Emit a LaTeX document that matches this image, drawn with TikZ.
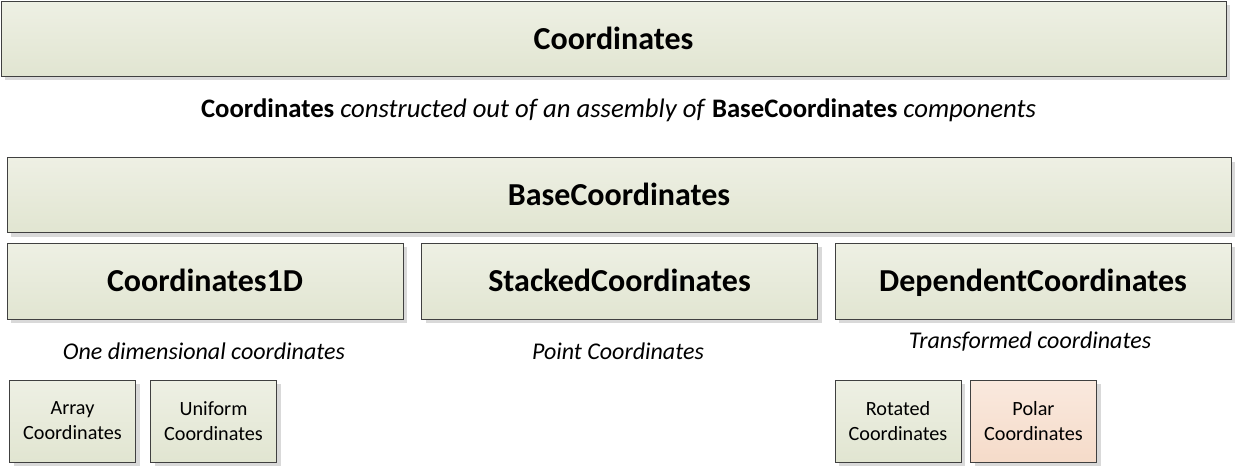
\documentclass[tikz,border=0pt]{standalone}
\usepackage{fontspec}
\setmainfont{Carlito}
\usetikzlibrary{shadows}

\definecolor{boxtop}{HTML}{EEF0E4}
\definecolor{boxbot}{HTML}{E1E5D1}
\definecolor{polartop}{HTML}{FAE9DE}
\definecolor{polarbot}{HTML}{F5DBC9}
\definecolor{boxline}{HTML}{404040}
\definecolor{boxshade}{HTML}{D9D9D9}

\tikzset{
  classbox/.style={draw=boxline, line width=1pt, rectangle, inner sep=0pt,
    top color=boxtop, bottom color=boxbot,
    drop shadow={shadow xshift=4pt, shadow yshift=-4pt, fill=boxshade, opacity=1},
    text height=21pt, text depth=0pt,
    font=\fontsize{32}{38}\selectfont\bfseries},
  smallbox/.style={classbox, align=center, minimum width=126pt, minimum height=82pt,
    text height=, text depth=, font=\fontsize{20.2}{25}\selectfont},
  polarbox/.style={smallbox, top color=polartop, bottom color=polarbot},
  caption/.style={inner sep=0pt, font=\fontsize{24}{29}\selectfont\itshape}
}

\begin{document}
\begin{tikzpicture}[x=1pt, y=-1pt]

  \useasboundingbox (0,0) rectangle (1236,467);

  % top level
  \node[classbox, minimum width=1225pt, minimum height=75pt] (coords) at (613.5,38.5) {Coordinates};
  \node[inner sep=0pt, font=\fontsize{26.7}{32}\selectfont] (coordsnote) at (618.5,110)
    {\textbf{Coordinates} \textit{constructed out of an assembly of} \textbf{BaseCoordinates} \textit{components}};

  % base and its three kinds
  \node[classbox, minimum width=1224pt, minimum height=75pt] (base) at (619,195) {BaseCoordinates};

  \node[classbox, minimum width=396pt, minimum height=76pt] (onedim) at (205,281) {Coordinates1D};
  \node[classbox, minimum width=396pt, minimum height=76pt] (stacked) at (619.5,281) {StackedCoordinates};
  \node[classbox, minimum width=396pt, minimum height=76pt] (dependent) at (1033,281) {DependentCoordinates};

  \node[caption] (onedimnote) at (204,351) {One dimensional coordinates};
  \node[caption] (stackednote) at (618,351) {Point Coordinates};
  \node[caption] (dependentnote) at (1030,342) {Transformed coordinates};

  % leaves
  \node[smallbox] (array) at (72.5,421) {Array\\Coordinates};
  \node[smallbox] (uniform) at (213.5,421) {Uniform\\Coordinates};
  \node[smallbox] (rotated) at (898,421) {Rotated\\Coordinates};
  \node[polarbox] (polar) at (1033.5,421) {Polar\\Coordinates};

\end{tikzpicture}
\end{document}
